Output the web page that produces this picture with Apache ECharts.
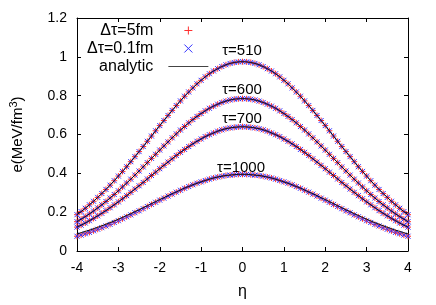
<!DOCTYPE html>
<html>
<head>
<meta charset="utf-8">
<script src="https://cdn.jsdelivr.net/npm/echarts@6/dist/echarts.min.js"></script>
<style>
html,body{margin:0;padding:0;background:#fff;}
#c{width:436px;height:305px;}
</style>
</head>
<body>
<div id="c"></div>
<script>
// rapidity values
const eta = [-4.0,-3.9,-3.8,-3.7,-3.6,-3.5,-3.4,-3.3,-3.2,-3.1,-3.0,-2.9,-2.8,-2.7,-2.6,-2.5,-2.4,-2.3,-2.2,-2.1,-2.0,-1.9,-1.8,-1.7,-1.6,-1.5,-1.4,-1.3,-1.2,-1.1,-1.0,-0.9,-0.8,-0.7,-0.6,-0.5,-0.4,-0.3,-0.2,-0.1,0.0,0.1,0.2,0.3,0.4,0.5,0.6,0.7,0.8,0.9,1.0,1.1,1.2,1.3,1.4,1.5,1.6,1.7,1.8,1.9,2.0,2.1,2.2,2.3,2.4,2.5,2.6,2.7,2.8,2.9,3.0,3.1,3.2,3.3,3.4,3.5,3.6,3.7,3.8,3.9,4.0];

// energy density (numerical, both time steps) per tau
const e510 = [0.187,0.203,0.220,0.238,0.256,0.276,0.296,0.317,0.339,0.362,0.386,0.410,0.434,0.460,0.486,0.512,0.538,0.565,0.592,0.619,0.646,0.672,0.698,0.724,0.749,0.773,0.797,0.819,0.840,0.861,0.879,0.897,0.913,0.927,0.939,0.950,0.959,0.966,0.971,0.974,0.975,0.974,0.971,0.966,0.959,0.950,0.939,0.927,0.913,0.897,0.879,0.861,0.840,0.819,0.797,0.773,0.749,0.724,0.698,0.672,0.646,0.619,0.592,0.565,0.538,0.512,0.486,0.460,0.434,0.410,0.386,0.362,0.339,0.317,0.296,0.276,0.256,0.238,0.220,0.203,0.187];
const e600 = [0.151,0.164,0.177,0.191,0.206,0.222,0.238,0.255,0.273,0.291,0.310,0.330,0.350,0.370,0.391,0.412,0.433,0.455,0.477,0.498,0.520,0.541,0.562,0.583,0.603,0.623,0.641,0.660,0.677,0.693,0.708,0.722,0.735,0.746,0.756,0.765,0.772,0.778,0.782,0.784,0.785,0.784,0.782,0.778,0.772,0.765,0.756,0.746,0.735,0.722,0.708,0.693,0.677,0.660,0.641,0.623,0.603,0.583,0.562,0.541,0.520,0.498,0.477,0.455,0.433,0.412,0.391,0.370,0.350,0.330,0.310,0.291,0.273,0.255,0.238,0.222,0.206,0.191,0.177,0.164,0.151];
const e700 = [0.123,0.133,0.144,0.156,0.168,0.181,0.194,0.208,0.223,0.238,0.253,0.269,0.285,0.302,0.319,0.336,0.353,0.371,0.389,0.406,0.424,0.441,0.458,0.475,0.492,0.508,0.523,0.538,0.552,0.565,0.577,0.589,0.599,0.608,0.617,0.624,0.630,0.634,0.637,0.639,0.640,0.639,0.637,0.634,0.630,0.624,0.617,0.608,0.599,0.589,0.577,0.565,0.552,0.538,0.523,0.508,0.492,0.475,0.458,0.441,0.424,0.406,0.389,0.371,0.353,0.336,0.319,0.302,0.285,0.269,0.253,0.238,0.223,0.208,0.194,0.181,0.168,0.156,0.144,0.133,0.123];
const e1000 = [0.076,0.082,0.089,0.096,0.104,0.112,0.120,0.129,0.137,0.147,0.156,0.166,0.176,0.186,0.197,0.207,0.218,0.229,0.240,0.251,0.262,0.272,0.283,0.293,0.303,0.313,0.323,0.332,0.341,0.349,0.356,0.363,0.370,0.376,0.381,0.385,0.389,0.391,0.393,0.395,0.395,0.395,0.393,0.391,0.389,0.385,0.381,0.376,0.370,0.363,0.356,0.349,0.341,0.332,0.323,0.313,0.303,0.293,0.283,0.272,0.262,0.251,0.240,0.229,0.218,0.207,0.197,0.186,0.176,0.166,0.156,0.147,0.137,0.129,0.120,0.112,0.104,0.096,0.089,0.082,0.076];
// analytic tau=1000 (slightly above numerical in tails)
const a1000 = [0.088,0.094,0.101,0.107,0.115,0.122,0.130,0.138,0.146,0.155,0.164,0.173,0.183,0.192,0.203,0.212,0.223,0.233,0.244,0.254,0.265,0.274,0.285,0.295,0.304,0.314,0.324,0.332,0.341,0.349,0.356,0.363,0.370,0.376,0.381,0.385,0.389,0.391,0.393,0.395,0.395,0.395,0.393,0.391,0.389,0.385,0.381,0.376,0.370,0.363,0.356,0.349,0.341,0.332,0.324,0.314,0.304,0.295,0.285,0.274,0.265,0.254,0.244,0.233,0.223,0.212,0.203,0.192,0.183,0.173,0.164,0.155,0.146,0.138,0.130,0.122,0.115,0.107,0.101,0.094,0.088];

const numerical = [e510, e600, e700, e1000];
const analytic = [e510, e600, e700, a1000];
const tauLabels = ['τ=510', 'τ=600', 'τ=700', 'τ=1000'];
const seriesNames = ['Δτ=5fm', 'Δτ=0.1fm', 'analytic'];
const xTicks = [-4, 4, 1];
const yTicks = [0, 1.2, 0.2];

const FONT = 'Liberation Sans, Arial, Helvetica, sans-serif';
const PLUS = 'path://M0,5L10,5M5,0L5,10';
const CROSS = 'path://M0,0L10,10M10,0L0,10';
const RED = '#ff3030';
const BLUE = '#3030ff';

const pairs = arr => eta.map((x, i) => [x, arr[i]]);

const series = [];
numerical.forEach(arr => series.push({
  name: seriesNames[0], type: 'scatter', data: pairs(arr),
  symbol: PLUS, symbolSize: 6, silent: true,
  itemStyle: {color: 'none', borderColor: RED, borderWidth: 1, opacity: 1}
}));
numerical.forEach(arr => series.push({
  name: seriesNames[1], type: 'scatter', data: pairs(arr),
  symbol: CROSS, symbolSize: 5, silent: true,
  itemStyle: {color: 'none', borderColor: BLUE, borderWidth: 1, opacity: 1}
}));
analytic.forEach(arr => series.push({
  name: seriesNames[2], type: 'line', data: pairs(arr),
  symbol: 'none', showSymbol: false, smooth: false, silent: true,
  lineStyle: {color: '#111', width: 1},
  itemStyle: {color: '#111'}
}));

const axisCommon = {
  axisLine: {show: true, onZero: false, lineStyle: {color: '#000', width: 1}},
  axisTick: {show: true, inside: true, length: 4, lineStyle: {color: '#000'}},
  splitLine: {show: false}
};

const chart = echarts.init(document.getElementById('c'), null, {renderer: 'canvas'});
chart.setOption({
  animation: false,
  backgroundColor: '#fff',
  grid: {left: 74, right: 28, top: 18, bottom: 49, containLabel: false},
  xAxis: [
    Object.assign({type: 'value', min: xTicks[0], max: xTicks[1], interval: xTicks[2], position: 'bottom',
      name: 'η', nameLocation: 'middle', nameGap: 33,
      nameTextStyle: {fontFamily: FONT, fontSize: 16, color: '#000'},
      axisLabel: {fontFamily: FONT, fontSize: 14, color: '#000', margin: 10}}, axisCommon),
    Object.assign({type: 'value', min: xTicks[0], max: xTicks[1], interval: xTicks[2], position: 'top',
      axisLabel: {show: false}}, axisCommon)
  ],
  yAxis: [
    Object.assign({type: 'value', min: yTicks[0], max: yTicks[1], interval: yTicks[2], position: 'left',
      name: 'e(MeV/fm{s|3})', nameLocation: 'middle', nameRotate: 90, nameGap: 50,
      nameTextStyle: {fontFamily: FONT, fontSize: 15, color: '#000',
        rich: {s: {fontFamily: FONT, fontSize: 11, color: '#000', padding: [0, 0, 8, 0]}}},
      axisLabel: {fontFamily: FONT, fontSize: 14, color: '#000', margin: 10}}, axisCommon),
    Object.assign({type: 'value', min: yTicks[0], max: yTicks[1], interval: yTicks[2], position: 'right',
      axisLabel: {show: false}}, axisCommon)
  ],
  legend: {
    orient: 'vertical', align: 'right', left: 87, top: 22, padding: 0,
    itemWidth: 40, itemHeight: 8, itemGap: 1, selectedMode: false,
    textStyle: {fontFamily: FONT, fontSize: 16, color: '#000', lineHeight: 17, padding: [0, 10, 0, 0]},
    data: [
      {name: seriesNames[0], icon: PLUS, itemStyle: {color: 'none', borderColor: RED, borderWidth: 1}},
      {name: seriesNames[1], icon: CROSS, itemStyle: {color: 'none', borderColor: BLUE, borderWidth: 1}},
      {name: seriesNames[2], itemStyle: {opacity: 0}, lineStyle: {color: '#444', width: 1, opacity: 1}}
    ]
  },
  series: series
});

// tau labels above each curve peak
const labelPos = [[242, 51], [242, 90], [242, 119], [241, 168]];
chart.setOption({
  graphic: tauLabels.map((t, i) => ({
    type: 'text', x: labelPos[i][0], y: labelPos[i][1], silent: true,
    style: {text: t, fontFamily: FONT, fontSize: 15, fill: '#000', align: 'center', verticalAlign: 'middle'}
  }))
});
</script>
</body>
</html>
